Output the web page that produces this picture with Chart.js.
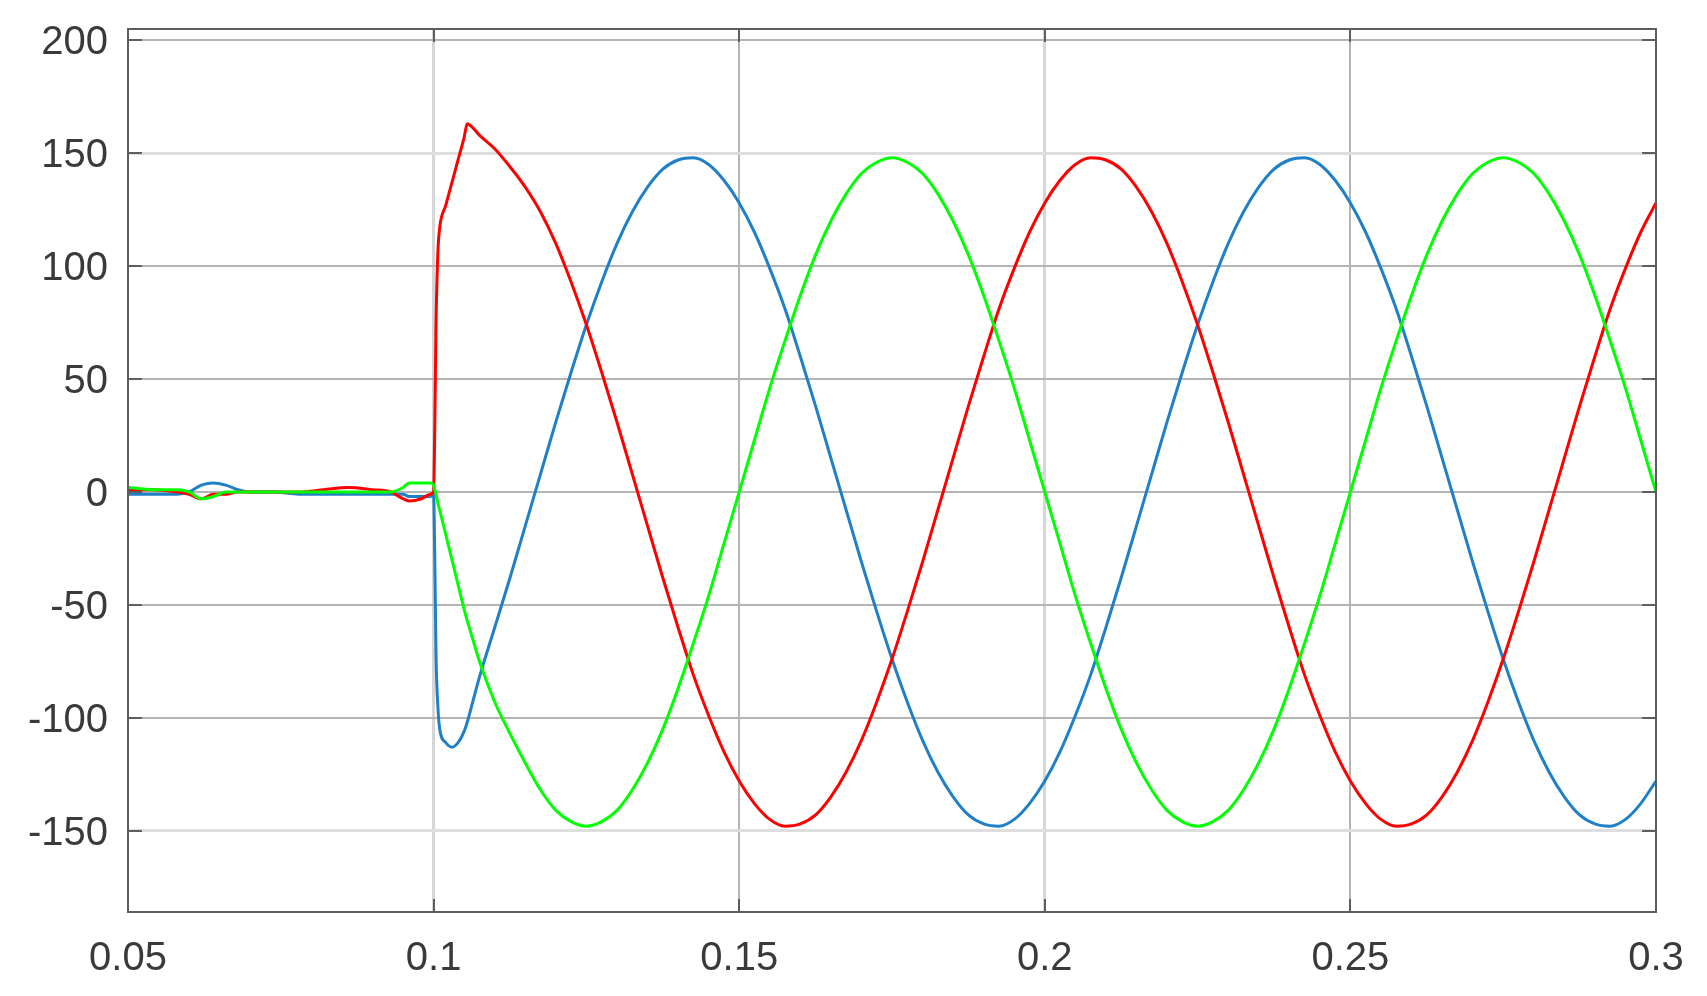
<!DOCTYPE html>
<html>
<head>
<meta charset="utf-8">
<script src="https://cdn.jsdelivr.net/npm/chart.js@4"></script>
<style>
  html, body { margin: 0; padding: 0; background: #fff; }
  canvas { display: block; }
</style>
</head>
<body>
<canvas id="phaseChart" width="1707" height="996"></canvas>
<script>
// time (s), pre-fault / switching transient / steady part
var time = [
  0.05, 0.054, 0.058, 0.06, 0.062, 0.064, 0.066, 0.068, 0.07, 0.074, 0.078, 0.082, 0.086, 0.09, 0.093, 0.095, 0.096, 0.098, 0.0995,
  0.1, 0.1002, 0.1004, 0.1007, 0.101, 0.102, 0.103, 0.104, 0.105, 0.1055, 0.1065,
  0.1075, 0.11, 0.1125, 0.115, 0.1175, 0.12, 0.1225, 0.125, 0.1275, 0.13,
  0.1325, 0.135, 0.1375, 0.14, 0.1425, 0.145, 0.1475, 0.15, 0.1525, 0.155,
  0.1575, 0.16, 0.1625, 0.165, 0.1675, 0.17, 0.1725, 0.175, 0.1775, 0.18,
  0.1825, 0.185, 0.1875, 0.19, 0.1925, 0.195, 0.1975, 0.2, 0.2025, 0.205,
  0.2075, 0.21, 0.2125, 0.215, 0.2175, 0.22, 0.2225, 0.225, 0.2275, 0.23,
  0.2325, 0.235, 0.2375, 0.24, 0.2425, 0.245, 0.2475, 0.25, 0.2525, 0.255,
  0.2575, 0.26, 0.2625, 0.265, 0.2675, 0.27, 0.2725, 0.275, 0.2775, 0.28,
  0.2825, 0.285, 0.2875, 0.29, 0.2925, 0.295, 0.2975, 0.3
];

// phase a (red)
var phaseA = [
  1, 1, 0, -1, -3, -1, -1, 0, 0, 0, 0, 1, 2, 1, 0, -3, -4, -3, -1,
  0, 30, 75, 106, 117, 127, 137, 147, 157, 163, 161,
  158, 152, 144, 135, 124, 110, 93, 74, 53, 31,
  8, -15, -38, -60, -81, -99, -115, -128, -138, -145,
  -148, -147, -143, -135, -124, -110, -93, -74, -53, -31,
  -8, 15, 38, 60, 81, 99, 115, 128, 138, 145,
  148, 147, 143, 135, 124, 110, 93, 74, 53, 31,
  8, -15, -38, -60, -81, -99, -115, -128, -138, -145,
  -148, -147, -143, -135, -124, -110, -93, -74, -53, -31,
  -8, 15, 38, 60, 81, 99, 115, 128
];

// phase b (blue)
var phaseB = [
  -1, -1, -1, 0, 3, 4, 3, 1, 0, 0, -1, -1, -1, -1, -1, -1, -2, -2, -2,
  -1, -31, -73, -95, -105, -111, -113, -111, -106, -102, -92,
  -82, -60, -38, -15, 8, 31, 53, 74, 93, 110,
  124, 135, 143, 147, 148, 145, 138, 128, 115, 99,
  81, 60, 38, 15, -8, -31, -53, -74, -93, -110,
  -124, -135, -143, -147, -148, -145, -138, -128, -115, -99,
  -81, -60, -38, -15, 8, 31, 53, 74, 93, 110,
  124, 135, 143, 147, 148, 145, 138, 128, 115, 99,
  81, 60, 38, 15, -8, -31, -53, -74, -93, -110,
  -124, -135, -143, -147, -148, -145, -138, -128
];

// phase c (green)
var phaseC = [
  2, 1, 1, 0, -3, -2, 0, 0, 0, 0, 0, 0, 0, 0, 0, 2, 4, 4, 4,
  3, 1, -1, -5, -8, -19, -30, -41, -52, -57, -66,
  -75, -93, -107, -120, -132, -141, -146, -148, -146, -141,
  -132, -120, -105, -87, -67, -46, -23, 0, 23, 46,
  67, 87, 105, 120, 132, 141, 146, 148, 146, 141,
  132, 120, 105, 87, 67, 46, 23, 0, -23, -46,
  -67, -87, -105, -120, -132, -141, -146, -148, -146, -141,
  -132, -120, -105, -87, -67, -46, -23, 0, 23, 46,
  67, 87, 105, 120, 132, 141, 146, 148, 146, 141,
  132, 120, 105, 87, 67, 46, 23, 0
];

function toPoints(values) {
  return values.map(function (v, i) { return { x: time[i], y: v }; });
}

// box round the plot + small inward tick marks
var axesBox = {
  id: 'axesBox',
  afterDraw: function (chart) {
    var ctx = chart.ctx, a = chart.chartArea;
    var sx = chart.scales.x, sy = chart.scales.y;
    ctx.save();
    ctx.strokeStyle = '#5e5e5e';
    ctx.lineWidth = 2;
    ctx.beginPath();
    sy.ticks.forEach(function (t) {
      var py = Math.round(sy.getPixelForValue(t.value));
      ctx.moveTo(a.left, py); ctx.lineTo(a.left + 14, py);
      ctx.moveTo(a.right, py); ctx.lineTo(a.right - 14, py);
    });
    sx.ticks.forEach(function (t) {
      var px = Math.round(sx.getPixelForValue(t.value));
      ctx.moveTo(px, a.bottom); ctx.lineTo(px, a.bottom - 13);
      ctx.moveTo(px, a.top); ctx.lineTo(px, a.top + 13);
    });
    ctx.stroke();
    ctx.strokeRect(a.left, a.top, a.right - a.left, a.bottom - a.top);
    ctx.restore();
  }
};

// lines that look washed out in the original picture
function softX(v) { return Math.abs(v - 0.1) < 1e-6 || Math.abs(v - 0.2) < 1e-6; }
function softY(v) { return Math.abs(v) === 150; }

Chart.defaults.font.family = '"Liberation Sans", Arial, sans-serif';

new Chart("phaseChart", {
  type: "line",
  data: {
    datasets: [{
      label: "c",
      data: toPoints(phaseC),
      borderColor: "#00ff00",
      borderWidth: 3,
      pointRadius: 0,
      cubicInterpolationMode: "monotone"
    }, {
      label: "a",
      data: toPoints(phaseA),
      borderColor: "#ff0000",
      borderWidth: 3,
      pointRadius: 0,
      cubicInterpolationMode: "monotone"
    }, {
      label: "b",
      data: toPoints(phaseB),
      borderColor: "#1f80c8",
      borderWidth: 3,
      pointRadius: 0,
      cubicInterpolationMode: "monotone"
    }]
  },
  options: {
    responsive: false,
    animation: false,
    devicePixelRatio: 1,
    layout: { padding: { top: 29, right: 51, bottom: 0, left: 0 } },
    plugins: {
      legend: { display: false },
      tooltip: { enabled: false }
    },
    scales: {
      x: {
        type: "linear",
        min: 0.05,
        max: 0.3,
        afterFit: function (s) { s.height = 84; s.paddingLeft = 0; s.paddingRight = 0; },
        ticks: {
          stepSize: 0.05,
          includeBounds: false,
          padding: 23,
          color: "#3a3a3a",
          font: { size: 40 },
          maxRotation: 0,
          callback: function (v) { return String(Number(v.toFixed(2))); }
        },
        grid: {
          color: function (c) { return softX(c.tick.value) ? "#d6d6d6" : "#b4b4b4"; },
          lineWidth: function (c) { return softX(c.tick.value) ? 3 : 2; },
          drawTicks: false
        },
        border: { display: false }
      },
      y: {
        min: -186,
        max: 205,
        afterFit: function (s) { s.width = 128; s.paddingTop = 0; s.paddingBottom = 0; },
        ticks: {
          stepSize: 50,
          includeBounds: false,
          padding: 20,
          labelOffset: 3,
          color: "#3a3a3a",
          font: { size: 40 }
        },
        grid: {
          color: function (c) { return softY(c.tick.value) ? "#dedede" : "#b4b4b4"; },
          lineWidth: function (c) { return softY(c.tick.value) ? 3 : 2; },
          drawTicks: false
        },
        border: { display: false }
      }
    }
  },
  plugins: [axesBox]
});
</script>
</body>
</html>
